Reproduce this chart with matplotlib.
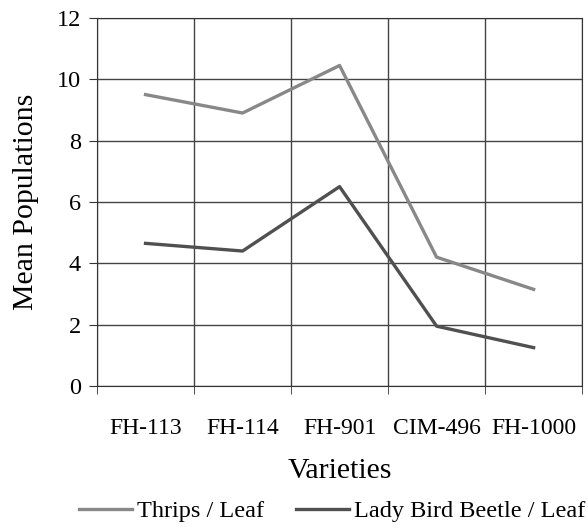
import numpy as np
import matplotlib.pyplot as plt

plt.rcParams['font.family'] = ['Liberation Serif', 'DejaVu Serif']

varieties = ['FH-113', 'FH-114', 'FH-901', 'CIM-496', 'FH-1000']
thrips = [9.5, 8.9, 10.45, 4.2, 3.15]
lady_bird = [4.65, 4.4, 6.5, 1.95, 1.25]

fig = plt.figure(figsize=(5.88, 5.28), dpi=100)
ax = fig.add_axes([0.165, 0.269, 0.825, 0.697])

x = np.arange(len(varieties))
ax.plot(x, thrips, color='#888888', lw=2.4, label='Thrips / Leaf')
ax.plot(x, lady_bird, color='#505050', lw=2.4, label='Lady Bird Beetle / Leaf')

ax.set_xlim(-0.5, len(varieties) - 0.5)
ax.set_ylim(0, 12)
ax.set_yticks(range(0, 13, 2))
ax.set_xticks(x)
ax.set_xticklabels(varieties)
ax.set_xticks(np.arange(-0.5, len(varieties)), minor=True)

ax.tick_params(axis='x', which='major', length=0, labelsize=17, pad=23)
ax.tick_params(axis='x', which='minor', length=5.5, color='#333333')
ax.tick_params(axis='y', length=5.5, color='#333333', labelsize=17.5, pad=6)

ax.grid(True, axis='y', color='#444444', lw=1)
ax.grid(True, axis='x', which='minor', color='#444444', lw=1)
ax.set_axisbelow(True)
for s in ax.spines.values():
    s.set_color('#333333')

ax.set_xlabel('Varieties', fontsize=21.5, labelpad=14)
ax.set_ylabel('Mean Populations', fontsize=21.5, labelpad=13)

ax.legend(loc='center', bbox_to_anchor=(0.485, -0.34), ncol=2, frameon=False,
          fontsize=17.5, handlelength=2.2, columnspacing=1.3, handletextpad=0.2)

fig.savefig('out.png')
